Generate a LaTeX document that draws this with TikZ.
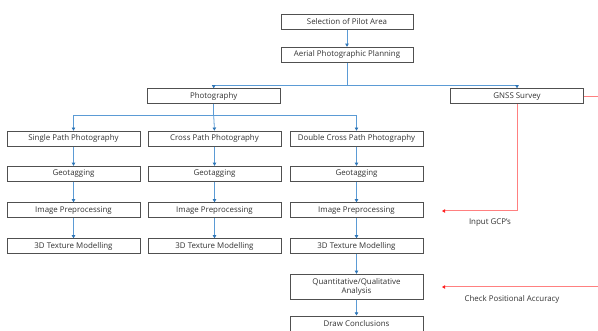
\documentclass[tikz,border=0pt]{standalone}
\usepackage{fontspec}
\setmainfont{Open Sans}
\usetikzlibrary{arrows.meta}
\definecolor{boxline}{HTML}{505050}
\definecolor{conn}{HTML}{5B9BD5}
\definecolor{tipblue}{HTML}{2E75B6}
\definecolor{redline}{HTML}{FF8080}
\definecolor{tipred}{HTML}{FF2020}
\tikzset{
  box/.style={draw=boxline, line width=0.9pt, fill=white, minimum width=133pt, minimum height=15pt, inner sep=0pt, align=center, font=\fontsize{7.9}{8.6}\selectfont, text=black!80},
  conn/.style={draw=conn, line width=0.8pt, -{Triangle[length=3.2pt,width=3.4pt,color=tipblue]}},
  connplain/.style={draw=conn, line width=0.8pt},
  redconn/.style={draw=redline, line width=1pt, -{Triangle[length=3.2pt,width=3.6pt,color=tipred]}},
  lbl/.style={font=\fontsize{7.9}{8.6}\selectfont, text=black!80}
}
\begin{document}
\begin{tikzpicture}[x=1pt,y=-1pt]
\useasboundingbox (0,0) rectangle (598,331);
% top
\node[box, minimum width=132pt] (sel) at (347,21.7) {Selection of Pilot Area};
\node[box, minimum width=132pt] (aer) at (347,54.8) {Aerial Photographic Planning};
\node[box] (pho) at (213.7,96.3) {Photography};
\node[box] (gnss) at (517,96.3) {GNSS Survey};
% columns
\node[box] (s1) at (73.5,138.7) {Single Path Photography};
\node[box] (s2) at (73.5,173.8) {Geotagging};
\node[box] (s3) at (73.5,210.3) {Image Preprocessing};
\node[box] (s4) at (73.5,246.3) {3D Texture Modelling};
\node[box] (c1) at (214.5,138.7) {Cross Path Photography};
\node[box] (c2) at (214.5,173.8) {Geotagging};
\node[box] (c3) at (214.5,210.3) {Image Preprocessing};
\node[box] (c4) at (214.5,246.3) {3D Texture Modelling};
\node[box] (d1) at (356.5,138.7) {Double Cross Path Photography};
\node[box] (d2) at (356.5,173.8) {Geotagging};
\node[box] (d3) at (356.5,210.3) {Image Preprocessing};
\node[box] (d4) at (356.5,246.3) {3D Texture Modelling};
\node[box, minimum height=25pt] (q) at (356.5,286.8) {Quantitative/Qualitative\\Analysis};
\node[box] (dc) at (356.5,323.5) {Draw Conclusions};
% blue connectors
\draw[conn] (sel) -- (aer);
\draw[connplain] (aer.south) -- ++(0,22.5) coordinate (br1);
\draw[conn] (br1) -| (pho.north);
\draw[conn] (br1) -| (gnss.north);
\draw[connplain] (pho.south) -- ++(0,11.5) coordinate (br2);
\draw[conn] (br2) -| (s1.north);
\draw[conn] (br2) -- (c1.north);
\draw[conn] (br2) -| (d1.north);
\foreach \c in {s,c,d}{
  \draw[conn] (\c1) -- (\c2);
  \draw[conn] (\c2) -- (\c3);
  \draw[conn] (\c3) -- (\c4);
}
\draw[conn] (d4) -- (q);
\draw[conn] (q) -- (dc);
% red connectors
\coordinate (gcpend) at (442,211);
\coordinate (chkend) at (442,287);
\coordinate (farright) at (606,96.3);
\draw[redconn] (gnss.south) |- (gcpend);
\draw[redconn] (gnss.east) -- (farright) |- (chkend);
\node[lbl] (gcp) at (490,222.5) {Input GCP’s};
\node[lbl] (chk) at (512,299.5) {Check Positional Accuracy};
\end{tikzpicture}
\end{document}
